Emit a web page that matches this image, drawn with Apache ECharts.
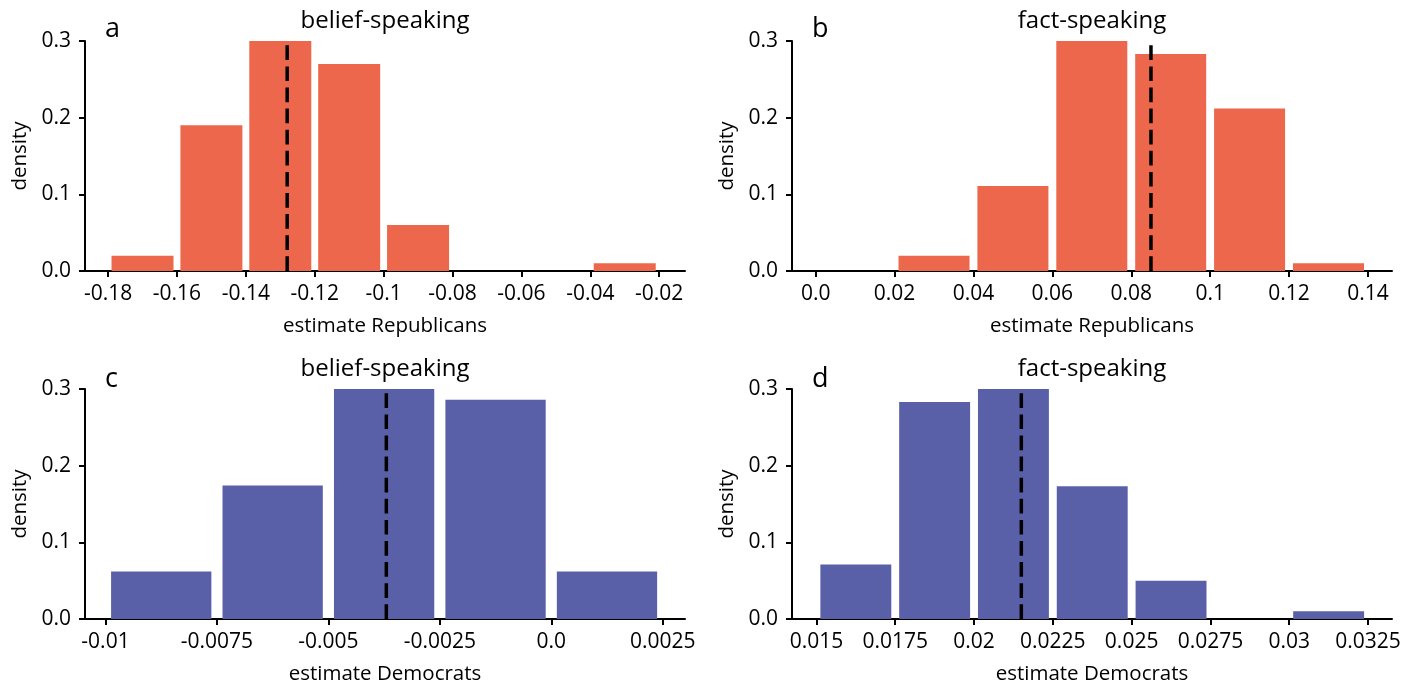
<!DOCTYPE html>
<html>
<head>
<meta charset="utf-8">
<script src="https://cdn.jsdelivr.net/npm/echarts@6/dist/echarts.min.js"></script>
<style>
html,body{margin:0;padding:0;background:#fff;}
#c{width:1417px;height:687px;}
</style>
</head>
<body>
<div id="c"></div>
<script>
// ---- data ----
const edgesA = [-0.18, -0.16, -0.14, -0.12, -0.10, -0.08, -0.06, -0.04, -0.02];
const densA  = [0.02, 0.19, 0.30, 0.27, 0.06, 0, 0, 0.01];
const meanA  = -0.128;
const ticksA = ['-0.18', '-0.16', '-0.14', '-0.12', '-0.1', '-0.08', '-0.06', '-0.04', '-0.02'];

const edgesB = [0.00, 0.02, 0.04, 0.06, 0.08, 0.10, 0.12, 0.14];
const densB  = [0, 0.02, 0.111, 0.30, 0.283, 0.212, 0.01];
const meanB  = 0.085;
const ticksB = ['0.0', '0.02', '0.04', '0.06', '0.08', '0.1', '0.12', '0.14'];

const edgesC = [-0.01, -0.0075, -0.005, -0.0025, 0.0, 0.0025];
const densC  = [0.062, 0.174, 0.30, 0.286, 0.062];
const meanC  = -0.0037;
const ticksC = ['-0.01', '-0.0075', '-0.005', '-0.0025', '0.0', '0.0025'];

const edgesD = [0.015, 0.0175, 0.02, 0.0225, 0.025, 0.0275, 0.03, 0.0325];
const densD  = [0.071, 0.283, 0.30, 0.173, 0.05, 0, 0.01];
const meanD  = 0.0215;
const ticksD = ['0.015', '0.0175', '0.02', '0.0225', '0.025', '0.0275', '0.03', '0.0325'];

const yTicks = ['0.0', '0.1', '0.2', '0.3'];

const titles  = ['belief-speaking', 'fact-speaking', 'belief-speaking', 'fact-speaking'];
const letters = ['a', 'b', 'c', 'd'];
const xNames  = ['estimate Republicans', 'estimate Republicans', 'estimate Democrats', 'estimate Democrats'];

// ---- styling / layout ----
const RED = '#EC674B', BLUE = '#5A60A7';
const FONT = 'Open Sans';
const panels = [
  {edges: edgesA, dens: densA, mean: meanA, ticks: ticksA, color: RED,  min: -0.1867, max: -0.0125, left: 85,  top: 41,  letterDy: -25},
  {edges: edgesB, dens: densB, mean: meanB, ticks: ticksB, color: RED,  min: -0.0060, max: 0.1461,  left: 792, top: 41,  letterDy: -25},
  {edges: edgesC, dens: densC, mean: meanC, ticks: ticksC, color: BLUE, min: -0.01046, max: 0.0030, left: 85,  top: 389, letterDy: -23},
  {edges: edgesD, dens: densD, mean: meanD, ticks: ticksD, color: BLUE, min: 0.014225, max: 0.03326, left: 792, top: 389, letterDy: -23}
];
const W = 600, H = 230;

function labelFor(ticks) {
  const vals = ticks.map(Number);
  return function (v) {
    let best = 0, bd = Infinity;
    vals.forEach((t, i) => { const d = Math.abs(t - v); if (d < bd) { bd = d; best = i; } });
    return ticks[best];
  };
}

const grid = [], xAxis = [], yAxis = [], series = [], title = [];
panels.forEach((p, i) => {
  grid.push({left: p.left, top: p.top, width: W, height: H, containLabel: false});
  const tv = p.ticks.map(Number);
  xAxis.push({
    type: 'value', gridIndex: i, min: p.min, max: p.max,
    splitLine: {show: false},
    axisLine: {show: true, onZero: false, lineStyle: {color: '#000', width: 2}},
    axisTick: {show: true, customValues: tv, length: 6, lineStyle: {color: '#000', width: 2}},
    axisLabel: {customValues: tv, formatter: labelFor(p.ticks), fontFamily: FONT, fontSize: 21, color: '#000', margin: 13},
    name: xNames[i], nameLocation: 'middle', nameGap: 45,
    nameTextStyle: {fontFamily: FONT, fontSize: 20.5, color: '#000'}
  });
  const yv = yTicks.map(Number);
  yAxis.push({
    type: 'value', gridIndex: i, min: 0, max: 0.3,
    splitLine: {show: false},
    axisLine: {show: true, onZero: false, lineStyle: {color: '#000', width: 2}},
    axisTick: {show: true, customValues: yv, length: 6, lineStyle: {color: '#000', width: 2}},
    axisLabel: {customValues: yv, formatter: labelFor(yTicks), fontFamily: FONT, fontSize: 21, color: '#000', margin: 14},
    name: 'density', nameLocation: 'middle', nameGap: 54,
    nameTextStyle: {fontFamily: FONT, fontSize: 20.5, color: '#000'}
  });
  const bars = p.dens.map((d, k) => [p.edges[k], p.edges[k + 1], d]);
  series.push({
    type: 'custom', xAxisIndex: i, yAxisIndex: i, data: bars,
    encode: {x: [0, 1], y: 2}, silent: true,
    renderItem: (function (color) {
      return function (params, api) {
        const x0 = api.value(0), x1 = api.value(1), h = api.value(2);
        const w = x1 - x0;
        const a = api.coord([x0 + 0.05 * w, h]);
        const b = api.coord([x1 - 0.05 * w, 0]);
        return {type: 'rect', shape: {x: a[0], y: a[1], width: b[0] - a[0], height: b[1] - a[1]}, style: {fill: color}};
      };
    })(p.color)
  });
  series.push({
    type: 'line', xAxisIndex: i, yAxisIndex: i, z: 5,
    data: [[p.mean, 0], [p.mean, 0.3]],
    symbol: 'none', silent: true, animation: false,
    lineStyle: {color: '#000', width: 3.5, type: [14.7, 6.4]}
  });
  title.push({
    text: titles[i], left: p.left + W / 2, top: p.top - 32, textAlign: 'center', padding: 0,
    textStyle: {fontFamily: FONT, fontSize: 24, fontWeight: 'normal', color: '#000'}
  });
  title.push({
    text: letters[i], left: p.left + 20, top: p.top + p.letterDy, padding: 0,
    textStyle: {fontFamily: FONT, fontSize: 27, fontWeight: 'normal', color: '#000'}
  });
});

const chart = echarts.init(document.getElementById('c'), null, {renderer: 'canvas'});
chart.setOption({animation: false, backgroundColor: '#fff', title, grid, xAxis, yAxis, series});
</script>
</body>
</html>
